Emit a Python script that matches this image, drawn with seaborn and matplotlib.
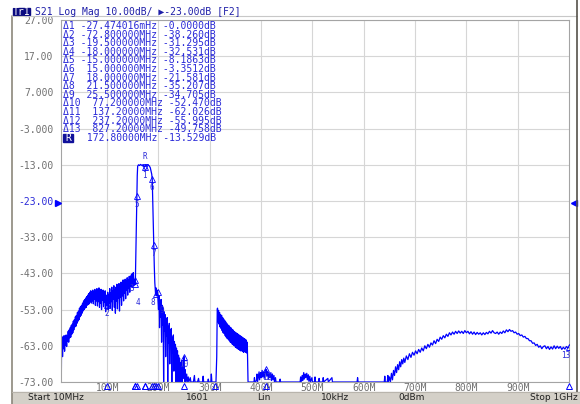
import matplotlib
matplotlib.use("Agg")
import matplotlib.pyplot as plt
import seaborn as sns
from matplotlib.patches import Rectangle
from matplotlib.transforms import blended_transform_factory

# trace, (MHz, dB) pairs per region
low_band = [(10.0,-62.5),(10.6,-73.0),(11.0,-64.5),(12.0,-60.5),(13.0,-66.0),(14.0,-61.5),(15.0,-63.8),(16.0,-60.2),
            (17.0,-64.5),(18.0,-61.0),(19.0,-62.8),(20.0,-60.0),(21.0,-63.2),(22.0,-60.4),(23.0,-61.8),(24.0,-59.0),
            (25.0,-62.0),(26.0,-58.6),(27.0,-60.8),(28.0,-58.0),(29.0,-60.6),(30.0,-57.4),(31.0,-59.8),(32.0,-57.0),
            (33.0,-59.4),(34.0,-56.2),(35.0,-58.6),(36.0,-55.8),(37.0,-57.8),(38.0,-55.0),(39.0,-57.6),(40.0,-54.6),
            (41.0,-56.8),(42.0,-53.8),(43.0,-56.2),(44.0,-53.4),(45.0,-55.8),(46.0,-52.6),(47.0,-55.0),(48.0,-52.2),
            (49.0,-54.6),(50.0,-51.8),(51.0,-54.0),(52.0,-51.2),(53.0,-53.4),(54.0,-50.6),(55.0,-53.0),(56.0,-50.2),
            (57.0,-52.6),(58.0,-49.8),(59.0,-52.4),(60.0,-49.4),(61.0,-51.8),(62.0,-49.0),(63.0,-51.6),(64.0,-48.6),
            (65.0,-51.4),(66.0,-48.2),(67.0,-50.8),(68.0,-47.8),(69.0,-51.2),(70.0,-48.0),(71.0,-50.6),(72.0,-47.6),
            (73.0,-51.4),(74.0,-48.2),(75.0,-50.2),(76.0,-47.4),(77.0,-51.8),(78.0,-48.0),(79.0,-50.6),(80.0,-47.2),
            (81.0,-52.0),(82.0,-48.4),(83.0,-50.8),(84.0,-47.0),(85.0,-52.4),(86.0,-48.6),(87.0,-51.2),(88.0,-47.4),
            (89.0,-53.0),(90.0,-48.2),(91.0,-50.4),(92.0,-47.6),(93.0,-52.2),(94.0,-48.8),(95.0,-51.0),(96.0,-47.8),
            (97.0,-53.6),(98.0,-49.0),(99.0,-51.4),(100.0,-51.8),(101.0,-48.2),(102.0,-53.0),(103.0,-48.8),
            (104.0,-51.2),(105.0,-47.2),(106.0,-52.6),(107.0,-48.4),(108.0,-50.8),(109.0,-46.8),(110.0,-53.2),
            (111.0,-47.8),(112.0,-50.2),(113.0,-46.4),(114.0,-52.4),(115.0,-47.6),(116.0,-54.0),(117.0,-46.8),
            (118.0,-50.6),(119.0,-46.0),(120.0,-52.8),(121.0,-47.2),(122.0,-49.8),(123.0,-45.8),(124.0,-53.4),
            (125.0,-46.6),(126.0,-49.6),(127.0,-45.4),(128.0,-51.8),(129.0,-46.2),(130.0,-49.2),(131.0,-44.8),
            (132.0,-50.6),(133.0,-45.6),(134.0,-48.4),(135.0,-44.6),(136.0,-50.0),(137.0,-45.2),(138.0,-47.6),
            (139.0,-44.2),(140.0,-49.0),(141.0,-44.8),(142.0,-47.2),(143.0,-43.8),(144.0,-48.2),(145.0,-44.0),
            (146.0,-46.6),(147.0,-43.4),(148.0,-46.8),(149.0,-43.0),(150.0,-45.8),(151.0,-42.8),(152.0,-46.4),
            (153.3,-44.8),(154.8,-46.1)]

passband = [(155.8,-38.0),(156.6,-30.0),(157.8,-21.7),(158.6,-16.0),(159.4,-13.4),(161.0,-13.0),(163.0,-13.2),
            (165.0,-12.9),(167.0,-13.1),(169.0,-13.3),(171.0,-13.2),(172.8,-13.53),(174.5,-13.4),(176.0,-13.2),
            (178.0,-13.0),(180.0,-13.1),(182.0,-13.3),(184.0,-13.8),(185.5,-14.8),(186.8,-15.6),(187.8,-16.9),
            (188.6,-22.0),(189.6,-28.0),(190.8,-35.1),(191.8,-41.0),(192.8,-45.5),(193.6,-47.2),(194.3,-48.7),
            (195.2,-47.0),(196.0,-49.2),(197.0,-47.6),(198.3,-48.2)]

upper_skirt = [(199.0,-50.5),(200.0,-53.0),(201.0,-49.2),(202.0,-58.0),(203.0,-50.6),(204.0,-55.0),(205.0,-50.2),
               (206.0,-62.0),(207.0,-51.8),(208.0,-57.2),(209.0,-52.6),(210.0,-73.0),(211.0,-53.6),(212.0,-59.0),
               (213.0,-54.4),(214.0,-66.0),(215.0,-55.6),(216.0,-60.2),(217.0,-55.2),(218.0,-73.0),(219.0,-57.6),
               (220.0,-62.2),(221.0,-56.8),(222.0,-68.0),(223.0,-58.6),(224.0,-63.0),(225.0,-58.2),(226.0,-73.0),
               (227.0,-60.6),(228.0,-65.0),(229.0,-60.0),(230.0,-70.0),(231.0,-61.8),(232.0,-66.2),(233.0,-62.6),
               (234.0,-73.0),(235.0,-63.6),(236.0,-68.0),(237.0,-64.4),(238.0,-73.0),(239.0,-65.6),(240.0,-69.0),
               (241.0,-66.4),(242.0,-73.0),(243.0,-67.6),(244.0,-71.0),(245.0,-67.2),(246.0,-73.0),(247.0,-68.8),
               (248.0,-72.0),(249.0,-67.8),(250.0,-66.0),(251.0,-73.0),(252.0,-69.6),(253.0,-73.0),(255.0,-70.8),
               (256.0,-73.0),(258.0,-71.6),(259.0,-73.0),(262.0,-71.8),(263.0,-73.0),(268.0,-73.0),(270.0,-71.2),
               (271.0,-73.0),(276.0,-73.0),(278.0,-72.0),(279.0,-73.0),(286.0,-73.0),(287.0,-71.4),(288.0,-73.0),
               (296.0,-73.0),(297.0,-72.2),(298.0,-73.0),(302.0,-73.0),(303.0,-70.8),(304.0,-73.0),(312.0,-73.0)]

spur_300 = [(313.5,-66.0),(314.5,-53.0),(315.0,-52.6),(316.0,-56.4),(317.0,-53.2),(318.0,-57.0),(319.0,-53.8),
            (320.0,-57.8),(321.0,-54.4),(322.0,-58.2),(323.0,-54.6),(324.0,-58.8),(325.0,-55.2),(326.0,-59.4),
            (327.0,-55.6),(328.0,-59.6),(329.0,-56.0),(330.0,-60.2),(331.0,-56.4),(332.0,-60.6),(333.0,-56.8),
            (334.0,-61.0),(335.0,-57.2),(336.0,-61.2),(337.0,-57.4),(338.0,-61.6),(339.0,-57.8),(340.0,-62.0),
            (341.0,-58.0),(342.0,-62.2),(343.0,-58.4),(344.0,-62.6),(345.0,-58.6),(346.0,-62.8),(347.0,-59.0),
            (348.0,-63.0),(349.0,-59.2),(350.0,-63.4),(351.0,-59.4),(352.0,-63.6),(353.0,-59.6),(354.0,-63.8),
            (355.0,-59.8),(356.0,-64.0),(357.0,-60.0),(358.0,-64.2),(359.0,-60.2),(360.0,-64.4),(361.0,-60.4),
            (362.0,-64.4),(363.0,-60.6),(364.0,-64.6),(365.0,-60.8),(366.0,-64.8),(367.0,-61.0),(368.0,-64.6),
            (369.0,-61.2),(370.0,-64.8),(371.0,-61.4),(372.0,-65.0),(373.0,-62.0),(373.8,-68.0),(374.5,-73.0)]

quiet = [(380.0,-73.0),(386.0,-73.0),(387.0,-71.8),(388.0,-73.0),(391.0,-72.6),(392.0,-70.8),(393.0,-73.0),
         (395.0,-71.0),(396.0,-70.2),(397.0,-72.4),(399.0,-70.4),(400.0,-71.8),(402.0,-69.8),(403.0,-71.6),
         (405.0,-70.2),(406.0,-72.0),(408.0,-69.8),(410.0,-69.5),(411.0,-71.4),(413.0,-70.0),(414.0,-72.2),
         (416.0,-70.6),(417.0,-71.8),(419.0,-70.4),(420.0,-72.6),(422.0,-70.8),(423.0,-72.4),(425.0,-71.2),
         (426.0,-73.0),(428.0,-71.8),(429.0,-73.0),(436.0,-73.0),(437.0,-72.2),(438.0,-73.0),(476.0,-73.0),
         (477.0,-71.6),(478.0,-73.0),(480.0,-71.2),(481.0,-72.6),(483.0,-70.4),(484.0,-72.2),(486.0,-70.8),
         (487.0,-71.8),(489.0,-70.6),(490.0,-72.4),(492.0,-71.0),(493.0,-72.8),(495.0,-71.4),(496.0,-73.0),
         (499.0,-71.8),(500.0,-73.0),(504.0,-73.0),(505.0,-71.6),(506.0,-73.0),(512.0,-73.0),(513.0,-72.0),
         (514.0,-73.0),(520.0,-73.0),(521.0,-71.8),(522.0,-73.0),(530.0,-72.0),(531.0,-73.0),(538.0,-71.8),
         (539.0,-73.0),(587.0,-73.0),(588.0,-71.8),(589.0,-73.0),(640.0,-73.0),(641.0,-71.4),(642.0,-73.0),
         (646.0,-73.0),(647.0,-71.2),(648.0,-73.0)]

high_hump = [(650.0,-71.6),(652.0,-73.0),(654.0,-70.6),(656.0,-72.4),(658.0,-69.8),(660.0,-71.2),(662.0,-68.8),
             (664.0,-70.4),(666.0,-68.2),(668.0,-69.6),(670.0,-67.4),(672.0,-68.8),(674.0,-66.8),(676.0,-68.0),
             (678.0,-66.4),(680.0,-67.6),(683.0,-65.8),(686.0,-66.8),(689.0,-65.2),(692.0,-66.2),(695.0,-64.8),
             (698.0,-65.6),(701.0,-64.4),(704.0,-65.2),(707.0,-64.0),(710.0,-64.8),(713.0,-63.6),(716.0,-64.4),
             (719.0,-63.0),(722.0,-63.8),(725.0,-62.6),(728.0,-63.4),(731.0,-62.2),(734.0,-62.8),(737.0,-61.6),
             (740.0,-62.4),(743.0,-61.2),(746.0,-61.8),(749.0,-60.6),(752.0,-61.2),(755.0,-60.2),(758.0,-60.8),
             (761.0,-59.8),(764.0,-60.4),(767.0,-59.4),(770.0,-60.0),(773.0,-59.2),(776.0,-59.8),(779.0,-59.0),
             (782.0,-59.6),(785.0,-58.9),(788.0,-59.5),(791.0,-59.0),(794.0,-59.6),(797.0,-58.8),(800.0,-59.4),
             (803.0,-59.0),(806.0,-59.7),(809.0,-59.1),(812.0,-59.8),(815.0,-59.2),(818.0,-59.9),(821.0,-59.3),
             (824.0,-59.8),(827.0,-59.4),(830.0,-60.0),(833.0,-59.4),(836.0,-59.9),(839.0,-59.3),(842.0,-59.7),
             (845.0,-59.0),(848.0,-59.5),(851.0,-58.8),(854.0,-59.4),(857.0,-59.6),(860.0,-59.2),(863.0,-59.8),
             (866.0,-59.2),(869.0,-59.6),(872.0,-58.9),(875.0,-59.4),(878.0,-58.6),(881.0,-59.1),(884.0,-58.5),
             (887.0,-59.0),(890.0,-58.8),(893.0,-59.4),(896.0,-59.2),(899.0,-59.8),(902.0,-59.6),(905.0,-60.2),
             (908.0,-60.0),(911.0,-60.6),(914.0,-60.4),(917.0,-61.0),(920.0,-61.0),(923.0,-61.6),(926.0,-61.6),
             (929.0,-62.3),(932.0,-62.2),(935.0,-62.9),(938.0,-62.6),(941.0,-63.4),(944.0,-63.0),(947.0,-63.8),
             (950.0,-63.2),(953.0,-63.0),(956.0,-63.8),(959.0,-63.2),(962.0,-64.0),(965.0,-63.3),(968.0,-63.9),
             (971.0,-63.0),(974.0,-63.8),(977.0,-63.1),(980.0,-63.7),(983.0,-63.2),(986.0,-64.0),(989.0,-63.4),
             (992.0,-63.9),(995.0,-63.2),(998.0,-63.6),(1000.0,-63.3)]

# marker table (relative to reference R)
ref_freq = 172.8
ref_db = -13.529
marker_names = ["1", "2", "3", "4", "5", "6", "7", "8", "9", "10", "11", "12", "13"]
marker_dfreq = [-27.474016e-9, -72.8, -19.5, -18.0, -15.0, 15.0, 18.0, 21.5, 25.5, 77.2, 137.2, 237.2, 827.2]
marker_dfreq_txt = ["-27.474016mHz", "-72.800000MHz", "-19.500000MHz", "-18.000000MHz", "-15.000000MHz",
                    "15.000000MHz", "18.000000MHz", "21.500000MHz", "25.500000MHz", "77.200000MHz",
                    "137.20000MHz", "237.20000MHz", "827.20000MHz"]
marker_ddb_txt = ["-0.0000dB", "-38.260dB", "-31.295dB", "-32.531dB", "-8.1863dB", "-3.3512dB", "-21.581dB",
                  "-35.207dB", "-34.705dB", "-52.470dB", "-62.026dB", "-55.995dB", "-49.758dB"]
# label offsets (points) so that stacked marker numbers stay readable
label_dx = [0, 0, -2, 2, 0, 0, 0, -2, 3, 0, 0, 0, -2]
label_dy = [-6, -6, -6, -13, -6, -6, -6, -6, -13, -6, -6, -6, -6]

ytick_vals = [27, 17, 7, -3, -13, -23, -33, -43, -53, -63, -73]
ytick_txt = ["27.00", "17.00", "7.000", "-3.000", "-13.00", "-23.00", "-33.00", "-43.00", "-53.00", "-63.00", "-73.00"]
xtick_vals = [100, 200, 300, 400, 500, 600, 700, 800, 900]
xtick_txt = ["100M", "200M", "300M", "400M", "500M", "600M", "700M", "800M", "900M"]

status_txt = ["Start 10MHz", "1601", "Lin", "10kHz", "0dBm", "Stop 1GHz"]
status_x = [56, 197, 264, 335, 412, 554]

segments = [low_band, passband, upper_skirt, spur_300, quiet, high_hump]
freq = [p[0] for seg in segments for p in seg]
db = [p[1] for seg in segments for p in seg]

BLUE = "#0000ff"
TXT_BLUE = "#2a2ad8"
GRAY = "#707070"

sns.set_style("white")
plt.rcParams["font.family"] = ["DejaVu Sans Mono", "DejaVu Sans"]

fig = plt.figure(figsize=(5.8, 4.04), dpi=100)
ax = fig.add_axes([61 / 580, 22 / 404, 508 / 580, 362 / 404], zorder=2)
ov = fig.add_axes([0, 0, 1, 1], zorder=3)
ov.set_xlim(0, 580)
ov.set_ylim(404, 0)
ov.axis("off")
ov.patch.set_alpha(0)

sns.lineplot(x=freq, y=db, ax=ax, color=BLUE, lw=0.9, estimator=None, sort=False)
ax.set_xlim(10, 1000)
ax.set_ylim(-73, 27)
ax.set_yticks(ytick_vals)
ax.set_yticklabels(ytick_txt)
ax.set_xticks(xtick_vals)
ax.set_xticklabels(xtick_txt)
ax.tick_params(axis="y", length=0, labelsize=7, labelcolor=GRAY, pad=5.5)
ax.tick_params(axis="x", length=0, labelsize=7, labelcolor=GRAY, pad=0.5)
ax.get_yticklabels()[5].set_color(TXT_BLUE)
ax.grid(True, color="#d6d6d6", lw=0.8)
for s in ax.spines.values():
    s.set_color("#a4a4a4")
    s.set_linewidth(0.8)
ax.set_xlabel("")
ax.set_ylabel("")

# markers on the trace
m_freq = [ref_freq + d for d in marker_dfreq]
m_db = [ref_db + float(t.replace("dB", "")) for t in marker_ddb_txt]
for name, f, v, dx, dy in zip(marker_names, m_freq, m_db, label_dx, label_dy):
    if v < -73:
        continue
    ax.plot([f], [v], marker="^", ms=4, mfc="none", mec=BLUE, mew=0.6, zorder=4, linestyle="none")
    ax.annotate(name, (f, v), xytext=(dx, dy), textcoords="offset points",
                ha="center", va="center", fontsize=5.5, color=TXT_BLUE)
ax.plot([ref_freq], [ref_db], marker="v", ms=4, mfc="none", mec=BLUE, mew=0.6, linestyle="none", zorder=4)
ax.annotate("R", (ref_freq, ref_db), xytext=(0, 7), textcoords="offset points",
            ha="center", va="center", fontsize=5.5, color=TXT_BLUE)

# stimulus markers under the axis
bt = blended_transform_factory(ax.transData, ax.transAxes)
for f in m_freq + [ref_freq]:
    ax.plot([f], [-0.012], marker="^", ms=5, mfc="none", mec=BLUE, mew=0.7,
            transform=bt, clip_on=False, linestyle="none")

# marker table
for i, (name, ft, dt) in enumerate(zip(marker_names, marker_dfreq_txt, marker_ddb_txt)):
    row = f"\u0394{name} {ft:>13} {dt}"
    ov.text(63, 26 + i * 8.6, row, fontsize=7, color=TXT_BLUE, va="center", ha="left")
ry = 26 + 13 * 8.6
ov.add_patch(Rectangle((63, ry - 4.3), 10, 8.6, color="#10109a"))
ov.text(68, ry, "R", fontsize=7, color="white", va="center", ha="center")
ov.text(63 + 3 * 5.85, ry, f"{'172.80000MHz':>13} -13.529dB", fontsize=7, color=TXT_BLUE, va="center", ha="left")

# reference level arrows
ov.plot([57.5], [203], marker=">", ms=5, color=BLUE, linestyle="none")
ov.plot([573.5], [203], marker="<", ms=5, color=BLUE, linestyle="none")

# window frame, header and status bar
ov.plot([12, 12], [15.5, 404], color="#8c877c", lw=1.2)
ov.plot([12, 577], [15.5, 15.5], color="#c8c8c8", lw=0.8)
ov.plot([577, 577], [0, 392], color="#55524a", lw=1.2)
ov.add_patch(Rectangle((12.7, 8), 17.3, 7, color="#0a0a80"))
ov.text(21.3, 11.6, "Tr1", fontsize=7, color="white", va="center", ha="center")
ov.text(35, 11.6, "S21 Log Mag 10.00dB/ \u25b6-23.00dB [F2]", fontsize=7, color="#1e1ea8", va="center", ha="left")
ov.add_patch(Rectangle((12, 391.5), 568, 12.5, color="#d4d0c8"))
ov.plot([12, 580], [391.5, 391.5], color="#b8b4ac", lw=0.8)
for t, x in zip(status_txt, status_x):
    ov.text(x, 398, t, fontsize=6.5, color="#202020", va="center", ha="center", family="DejaVu Sans")

fig.savefig("out.png", dpi=100)
